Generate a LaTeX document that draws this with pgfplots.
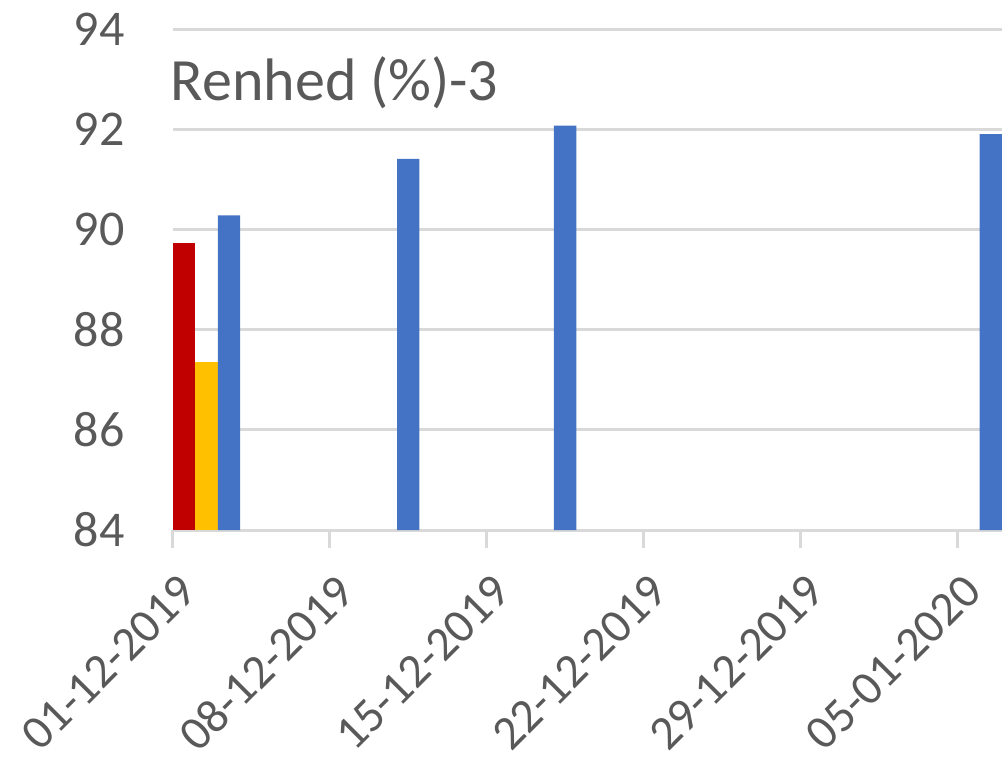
\documentclass[border=0pt]{standalone}
\usepackage{fontspec}
\setmainfont{Carlito}
\usepackage{pgfplots}
\pgfplotsset{compat=1.18}
\definecolor{cred}{HTML}{C00000}
\definecolor{cyel}{HTML}{FFC000}
\definecolor{cblue}{HTML}{4472C4}
\definecolor{cgrid}{HTML}{D9D9D9}
\definecolor{ctext}{HTML}{595959}
\begin{document}
\begin{tikzpicture}
\begin{axis}[
  scale only axis,
  width=414.5pt, height=250.5pt,
  xmin=0, xmax=37, ymin=84, ymax=94,
  ytick={84,86,...,94},
  xtick={0,7,14,21,28,35},
  xticklabels={01-12-2019,08-12-2019,15-12-2019,22-12-2019,29-12-2019,05-01-2020},
  axis line style={draw=none},
  axis x line*=bottom,
  x axis line style={draw=cgrid, line width=1.5pt},
  ymajorgrids, grid style={cgrid, line width=1.5pt},
  ytick style={draw=none},
  xtick style={draw=cgrid, line width=1.5pt},
  xtick align=outside,
  major tick length=9pt,
  tick label style={font=\fontsize{25}{30}\selectfont, text=ctext},
  /pgf/number format/assume math mode=true,
  yticklabel style={anchor=east, inner sep=0pt, xshift=-24pt},
  xticklabel style={font=\fontsize{24}{30}\selectfont, rotate=45, anchor=east, inner sep=0pt, xshift=-7pt, yshift=-18pt},
  ybar, bar shift=0pt, bar width=11.203pt,
  clip=true,
]
\addplot[fill=cred, draw=none] coordinates {(0.5,89.73)};
\addplot[fill=cyel, draw=none] coordinates {(1.5,87.35)};
\addplot[fill=cblue, draw=none] coordinates {(2.5,90.28) (10.5,91.41) (17.5,92.07) (36.5,91.90)};
\node[anchor=base west, inner sep=0pt, text=ctext, font=\fontsize{30}{36}\selectfont] at (rel axis cs:-0.003,0.858) {Renhed (\%)-3};
\end{axis}
\pgfresetboundingbox
\path[use as bounding box] (-86.5pt,-118pt) rectangle (414.5pt,265pt);
\end{tikzpicture}
\end{document}
